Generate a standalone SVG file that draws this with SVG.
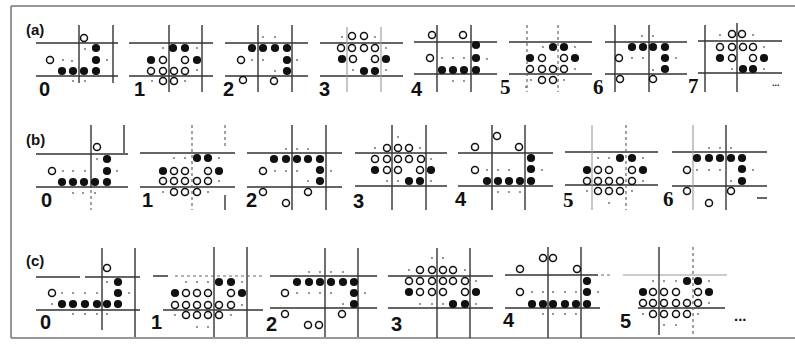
<svg xmlns="http://www.w3.org/2000/svg" width="795" height="349" viewBox="0 0 795 349">
<style>
.bg{fill:#fff}
.fr{stroke:#777;stroke-width:1.5;fill:none}
.ln{stroke:#333;stroke-width:1.4;fill:none}
.lt{stroke:#999;stroke-width:1.1;fill:none}
.dl{stroke:#666;stroke-width:1.2;fill:none;stroke-dasharray:3 3}
.f{fill:#111}
.o{fill:#fff;stroke:#111;stroke-width:1.5}
.d{fill:#666}
.lb{font-family:"Liberation Sans",Arial,sans-serif;font-size:20px;font-weight:bold;fill:#111}
.ls{font-family:"Liberation Serif","Times New Roman",serif;font-size:21px;font-weight:bold;fill:#111}
.tt{font-family:"Liberation Sans",Arial,sans-serif;font-size:15px;font-weight:bold;fill:#111}
</style>
<defs>
<circle id="F" r="4.1" class="f"/>
<circle id="O" r="3.5" class="o"/>
<circle id="D" r="0.9" class="d"/>
</defs>
<rect class="bg" x="0" y="0" width="795" height="349"/>
<g id="frame">
<path class="fr" d="M11,6H795M11,6V338M11,338H795"/>
</g>
<text class="tt" x="26" y="35">(a)</text>
<text class="tt" x="26" y="145">(b)</text>
<text class="tt" x="26" y="266">(c)</text>

<!-- Row a -->
<g id="a0">
<path class="ln" d="M36,43H118M36,76H118M79,25V83M113,25V83"/>
<use href="#O" x="84" y="38"/><use href="#O" x="50" y="60"/>
<use href="#F" x="96" y="48"/><use href="#F" x="96" y="60"/><use href="#F" x="96" y="71"/><use href="#F" x="62" y="71"/><use href="#F" x="73" y="71"/><use href="#F" x="84" y="71"/>
<use href="#D" x="63" y="60"/><use href="#D" x="72" y="61"/><use href="#D" x="85" y="49"/><use href="#D" x="107" y="60"/><use href="#D" x="73" y="81"/><use href="#D" x="85" y="81"/>
<text class="lb" x="39" y="96">0</text>
</g>
<g id="a1">
<path class="ln" d="M129,43H213M129,76H213M169,25V92M202,25V92"/>
<use href="#F" x="173" y="48"/><use href="#F" x="185" y="48"/><use href="#F" x="151" y="60"/><use href="#F" x="197" y="60"/>
<use href="#O" x="163" y="60"/><use href="#O" x="185" y="60"/><use href="#O" x="151" y="71"/><use href="#O" x="163" y="71"/><use href="#O" x="174" y="71"/><use href="#O" x="185" y="71"/><use href="#O" x="163" y="81"/><use href="#O" x="174" y="81"/>
<use href="#D" x="163" y="48"/><use href="#D" x="197" y="48"/><use href="#D" x="197" y="70"/><use href="#D" x="152" y="81"/><use href="#D" x="185" y="81"/>
<text class="lb" x="134" y="96">1</text>
</g>
<g id="a2">
<path class="ln" d="M225,43H308M225,76H308M258,25V92M292,25V92"/>
<use href="#F" x="252" y="48"/><use href="#F" x="263" y="48"/><use href="#F" x="275" y="48"/><use href="#F" x="287" y="48"/><use href="#F" x="287" y="60"/><use href="#F" x="287" y="71"/>
<use href="#O" x="241" y="60"/><use href="#O" x="243" y="80"/><use href="#O" x="274" y="81"/>
<use href="#D" x="263" y="37"/><use href="#D" x="275" y="37"/><use href="#D" x="252" y="60"/><use href="#D" x="263" y="60"/><use href="#D" x="275" y="71"/><use href="#D" x="297" y="60"/>
<text class="lb" x="223" y="96">2</text>
</g>
<g id="a3">
<path class="ln" d="M320,43H403M320,76H403"/>
<path class="lt" d="M347,27V92M381,27V92"/>
<use href="#O" x="352" y="36"/><use href="#O" x="364" y="36"/><use href="#O" x="341" y="48"/><use href="#O" x="352" y="48"/><use href="#O" x="364" y="48"/><use href="#O" x="375" y="48"/><use href="#O" x="353" y="59"/><use href="#O" x="375" y="59"/>
<use href="#F" x="342" y="59"/><use href="#F" x="386" y="59"/><use href="#F" x="364" y="71"/><use href="#F" x="375" y="71"/>
<use href="#D" x="342" y="37"/><use href="#D" x="375" y="37"/><use href="#D" x="386" y="48"/><use href="#D" x="353" y="70"/><use href="#D" x="386" y="70"/>
<text class="lb" x="319" y="96">3</text>
</g>
<g id="a4">
<path class="ln" d="M414,42H497M414,74H497M437,25V92M471,25V92"/>
<use href="#O" x="432" y="35"/><use href="#O" x="463" y="35"/><use href="#O" x="430" y="58"/>
<use href="#F" x="476" y="45"/><use href="#F" x="476" y="58"/><use href="#F" x="476" y="70"/><use href="#F" x="442" y="70"/><use href="#F" x="453" y="70"/><use href="#F" x="464" y="70"/>
<use href="#D" x="442" y="58"/><use href="#D" x="453" y="58"/><use href="#D" x="464" y="58"/><use href="#D" x="487" y="59"/><use href="#D" x="453" y="81"/><use href="#D" x="464" y="81"/>
<text class="lb" x="411" y="96">4</text>
</g>
<g id="a5">
<path class="ln" d="M509,42H592M509,74H592"/>
<path class="dl" d="M527,25V92M558,25V92"/>
<use href="#F" x="553" y="47"/><use href="#F" x="564" y="47"/><use href="#F" x="530" y="58"/><use href="#F" x="575" y="58"/>
<use href="#O" x="542" y="58"/><use href="#O" x="564" y="58"/><use href="#O" x="530" y="69"/><use href="#O" x="542" y="69"/><use href="#O" x="553" y="69"/><use href="#O" x="564" y="69"/><use href="#O" x="542" y="80"/><use href="#O" x="553" y="80"/>
<use href="#D" x="543" y="47"/><use href="#D" x="575" y="47"/><use href="#D" x="575" y="69"/><use href="#D" x="531" y="80"/><use href="#D" x="564" y="80"/><use href="#D" x="526" y="87"/>
<text class="ls" x="500" y="94">5</text>
</g>
<g id="a6">
<path class="ln" d="M605,42H687M605,74H687M615,25V92M649,25V92"/>
<use href="#F" x="632" y="47"/><use href="#F" x="643" y="47"/><use href="#F" x="653" y="47"/><use href="#F" x="665" y="47"/><use href="#F" x="665" y="58"/><use href="#F" x="665" y="69"/>
<use href="#O" x="619" y="58"/><use href="#O" x="620" y="79"/><use href="#O" x="653" y="79"/>
<use href="#D" x="642" y="36"/><use href="#D" x="653" y="36"/><use href="#D" x="632" y="58"/><use href="#D" x="643" y="58"/><use href="#D" x="653" y="70"/><use href="#D" x="676" y="58"/>
<text class="ls" x="593" y="94">6</text>
</g>
<g id="a7">
<path class="ln" d="M698,41H782M698,73H782M705,25V92M737,23V92"/>
<use href="#O" x="732" y="34"/><use href="#O" x="742" y="34"/><use href="#O" x="720" y="47"/><use href="#O" x="732" y="47"/><use href="#O" x="743" y="47"/><use href="#O" x="753" y="47"/><use href="#O" x="732" y="58"/><use href="#O" x="753" y="58"/>
<use href="#F" x="720" y="58"/><use href="#F" x="764" y="58"/><use href="#F" x="743" y="69"/><use href="#F" x="753" y="69"/>
<use href="#D" x="720" y="35"/><use href="#D" x="753" y="35"/><use href="#D" x="764" y="47"/><use href="#D" x="732" y="69"/><use href="#D" x="764" y="69"/>
<text class="ls" x="688" y="93">7</text>
<text class="tt" x="772" y="86" style="font-size:9px">...</text>
</g>

<!-- Row b -->
<g id="b0">
<path class="ln" d="M36,154H128M36,187H128M91,125V188M124,125V153"/>
<path class="dl" d="M91,190V210"/>
<use href="#O" x="97" y="147"/><use href="#O" x="52" y="171"/>
<use href="#F" x="107" y="159"/><use href="#F" x="107" y="171"/><use href="#F" x="107" y="182"/><use href="#F" x="62" y="182"/><use href="#F" x="73" y="182"/><use href="#F" x="84" y="182"/><use href="#F" x="95" y="182"/>
<use href="#D" x="63" y="171"/><use href="#D" x="73" y="171"/><use href="#D" x="85" y="171"/><use href="#D" x="97" y="159"/><use href="#D" x="117" y="171"/><use href="#D" x="73" y="193"/><use href="#D" x="83" y="193"/><use href="#D" x="95" y="193"/>
<text class="lb" x="41" y="207">0</text>
</g>
<g id="b1">
<path class="ln" d="M140,153H235M140,187H235M225,195V210"/>
<path class="dl" d="M192,125V210M225,125V148"/>
<use href="#F" x="197" y="158"/><use href="#F" x="208" y="158"/><use href="#F" x="163" y="171"/><use href="#F" x="219" y="171"/>
<use href="#O" x="174" y="171"/><use href="#O" x="185" y="171"/><use href="#O" x="208" y="171"/><use href="#O" x="163" y="181"/><use href="#O" x="174" y="181"/><use href="#O" x="185" y="181"/><use href="#O" x="197" y="181"/><use href="#O" x="208" y="181"/><use href="#O" x="174" y="192"/><use href="#O" x="185" y="192"/><use href="#O" x="197" y="192"/>
<use href="#D" x="174" y="158"/><use href="#D" x="185" y="158"/><use href="#D" x="219" y="158"/><use href="#D" x="219" y="181"/><use href="#D" x="163" y="192"/><use href="#D" x="208" y="192"/>
<text class="lb" x="142" y="207">1</text>
</g>
<g id="b2">
<path class="ln" d="M247,153H342M247,187H342M292,125V210M326,125V210"/>
<use href="#F" x="274" y="159"/><use href="#F" x="286" y="159"/><use href="#F" x="297" y="159"/><use href="#F" x="308" y="159"/><use href="#F" x="320" y="159"/><use href="#F" x="320" y="170"/><use href="#F" x="320" y="181"/>
<use href="#O" x="263" y="171"/><use href="#O" x="263" y="192"/><use href="#O" x="286" y="203"/><use href="#O" x="308" y="192"/>
<use href="#D" x="286" y="149"/><use href="#D" x="297" y="149"/><use href="#D" x="308" y="149"/><use href="#D" x="275" y="171"/><use href="#D" x="286" y="171"/><use href="#D" x="297" y="171"/><use href="#D" x="308" y="181"/><use href="#D" x="331" y="171"/>
<text class="lb" x="246" y="207">2</text>
</g>
<g id="b3">
<path class="ln" d="M355,153H447M355,186H447M392,125V210M426,125V210"/>
<use href="#O" x="387" y="148"/><use href="#O" x="398" y="148"/><use href="#O" x="409" y="148"/><use href="#O" x="375" y="159"/><use href="#O" x="387" y="159"/><use href="#O" x="398" y="159"/><use href="#O" x="409" y="159"/><use href="#O" x="421" y="159"/><use href="#O" x="387" y="170"/><use href="#O" x="398" y="170"/><use href="#O" x="420" y="170"/>
<use href="#F" x="375" y="170"/><use href="#F" x="431" y="170"/><use href="#F" x="409" y="181"/><use href="#F" x="420" y="181"/>
<use href="#D" x="398" y="137"/><use href="#D" x="375" y="148"/><use href="#D" x="420" y="148"/><use href="#D" x="431" y="159"/><use href="#D" x="387" y="181"/><use href="#D" x="398" y="181"/><use href="#D" x="431" y="181"/>
<text class="lb" x="353" y="208">3</text>
</g>
<g id="b4">
<path class="ln" d="M458,153H553M458,186H553M492,125V210M525,125V210"/>
<use href="#O" x="497" y="136"/><use href="#O" x="475" y="147"/><use href="#O" x="519" y="147"/><use href="#O" x="475" y="170"/>
<use href="#F" x="531" y="158"/><use href="#F" x="531" y="169"/><use href="#F" x="531" y="181"/><use href="#F" x="487" y="181"/><use href="#F" x="498" y="181"/><use href="#F" x="509" y="181"/><use href="#F" x="520" y="181"/>
<use href="#D" x="487" y="170"/><use href="#D" x="498" y="170"/><use href="#D" x="509" y="170"/><use href="#D" x="498" y="192"/><use href="#D" x="509" y="192"/><use href="#D" x="520" y="192"/><use href="#D" x="542" y="170"/>
<text class="lb" x="455" y="206">4</text>
</g>
<g id="b5">
<path class="ln" d="M565,152H658M565,185H658"/>
<path class="lt" d="M592,125V210"/>
<path class="dl" d="M626,125V210"/>
<use href="#F" x="620" y="158"/><use href="#F" x="632" y="158"/><use href="#F" x="587" y="170"/><use href="#F" x="643" y="170"/>
<use href="#O" x="598" y="170"/><use href="#O" x="609" y="170"/><use href="#O" x="632" y="170"/><use href="#O" x="587" y="181"/><use href="#O" x="598" y="181"/><use href="#O" x="609" y="181"/><use href="#O" x="620" y="181"/><use href="#O" x="632" y="181"/><use href="#O" x="598" y="191"/><use href="#O" x="609" y="191"/><use href="#O" x="620" y="191"/>
<use href="#D" x="598" y="158"/><use href="#D" x="609" y="158"/><use href="#D" x="643" y="158"/><use href="#D" x="643" y="181"/><use href="#D" x="587" y="191"/><use href="#D" x="632" y="191"/><use href="#D" x="609" y="203"/>
<text class="ls" x="563" y="207">5</text>
</g>
<g id="b6">
<path class="ln" d="M672,152H767M672,186H767M726,125V210M757,198H767"/>
<path class="lt" d="M693,125V210"/>
<use href="#F" x="697" y="158"/><use href="#F" x="709" y="158"/><use href="#F" x="720" y="158"/><use href="#F" x="731" y="158"/><use href="#F" x="742" y="158"/><use href="#F" x="742" y="169"/><use href="#F" x="742" y="181"/>
<use href="#O" x="687" y="170"/><use href="#O" x="687" y="191"/><use href="#O" x="709" y="203"/><use href="#O" x="731" y="191"/>
<use href="#D" x="709" y="148"/><use href="#D" x="720" y="148"/><use href="#D" x="731" y="148"/><use href="#D" x="697" y="170"/><use href="#D" x="709" y="170"/><use href="#D" x="720" y="170"/><use href="#D" x="731" y="181"/><use href="#D" x="753" y="170"/>
<text class="ls" x="663" y="206">6</text>
</g>

<!-- Row c -->
<g id="c0">
<path class="ln" d="M36,277H80M85,277H140M36,310H140M102,248V330M135,248V337"/>
<use href="#O" x="107" y="268"/><use href="#O" x="52" y="293"/>
<use href="#F" x="118" y="282"/><use href="#F" x="118" y="293"/><use href="#F" x="118" y="304"/><use href="#F" x="62" y="304"/><use href="#F" x="73" y="304"/><use href="#F" x="85" y="304"/><use href="#F" x="97" y="304"/><use href="#F" x="107" y="304"/>
<use href="#D" x="62" y="293"/><use href="#D" x="73" y="293"/><use href="#D" x="85" y="293"/><use href="#D" x="97" y="293"/><use href="#D" x="107" y="282"/><use href="#D" x="129" y="293"/><use href="#D" x="73" y="314"/><use href="#D" x="85" y="314"/><use href="#D" x="97" y="314"/><use href="#D" x="107" y="314"/><use href="#D" x="52" y="304"/>
<text class="lb" x="40" y="329">0</text>
</g>
<g id="c1">
<path class="ln" d="M153,276H168M163,310H263M214,247V337M247,247V337"/>
<path class="dl" d="M175,276H263"/>
<use href="#F" x="219" y="282"/><use href="#F" x="231" y="282"/><use href="#F" x="175" y="293"/><use href="#F" x="242" y="293"/>
<use href="#O" x="186" y="293"/><use href="#O" x="197" y="293"/><use href="#O" x="208" y="293"/><use href="#O" x="231" y="293"/><use href="#O" x="175" y="305"/><use href="#O" x="186" y="305"/><use href="#O" x="197" y="305"/><use href="#O" x="208" y="305"/><use href="#O" x="219" y="305"/><use href="#O" x="231" y="305"/><use href="#O" x="186" y="315"/><use href="#O" x="197" y="315"/><use href="#O" x="208" y="315"/><use href="#O" x="219" y="315"/>
<use href="#D" x="186" y="282"/><use href="#D" x="197" y="282"/><use href="#D" x="208" y="282"/><use href="#D" x="242" y="282"/><use href="#D" x="242" y="305"/><use href="#D" x="175" y="315"/><use href="#D" x="231" y="315"/><use href="#D" x="197" y="327"/><use href="#D" x="208" y="327"/>
<text class="lb" x="151" y="329">1</text>
</g>
<g id="c2">
<path class="ln" d="M270,276H377M270,308H377M325,248V337M358,248V337"/>
<use href="#F" x="297" y="282"/><use href="#F" x="309" y="282"/><use href="#F" x="320" y="282"/><use href="#F" x="331" y="282"/><use href="#F" x="343" y="282"/><use href="#F" x="354" y="282"/><use href="#F" x="354" y="293"/><use href="#F" x="354" y="304"/>
<use href="#O" x="285" y="293"/><use href="#O" x="285" y="314"/><use href="#O" x="308" y="325"/><use href="#O" x="319" y="325"/><use href="#O" x="342" y="314"/>
<use href="#D" x="309" y="272"/><use href="#D" x="320" y="272"/><use href="#D" x="331" y="272"/><use href="#D" x="343" y="272"/><use href="#D" x="297" y="293"/><use href="#D" x="309" y="293"/><use href="#D" x="320" y="293"/><use href="#D" x="331" y="293"/><use href="#D" x="343" y="304"/><use href="#D" x="365" y="293"/>
<text class="lb" x="266" y="331">2</text>
</g>
<g id="c3">
<path class="ln" d="M388,276H493M388,308H493M437,248V338M470,248V338"/>
<use href="#O" x="420" y="270"/><use href="#O" x="432" y="270"/><use href="#O" x="443" y="270"/><use href="#O" x="453" y="270"/><use href="#O" x="409" y="281"/><use href="#O" x="420" y="281"/><use href="#O" x="432" y="281"/><use href="#O" x="443" y="281"/><use href="#O" x="453" y="281"/><use href="#O" x="465" y="281"/><use href="#O" x="420" y="292"/><use href="#O" x="432" y="292"/><use href="#O" x="443" y="292"/><use href="#O" x="465" y="292"/>
<use href="#F" x="409" y="292"/><use href="#F" x="476" y="292"/><use href="#F" x="453" y="304"/><use href="#F" x="465" y="304"/>
<use href="#D" x="432" y="258"/><use href="#D" x="443" y="258"/><use href="#D" x="409" y="270"/><use href="#D" x="465" y="270"/><use href="#D" x="476" y="281"/><use href="#D" x="420" y="304"/><use href="#D" x="432" y="304"/><use href="#D" x="443" y="304"/><use href="#D" x="476" y="304"/>
<text class="lb" x="391" y="331">3</text>
</g>
<g id="c4">
<path class="ln" d="M505,275H598M505,308H600M548,247V338M581,247V338"/>
<path class="dl" d="M601,275H610"/>
<use href="#O" x="543" y="258"/><use href="#O" x="553" y="258"/><use href="#O" x="520" y="269"/><use href="#O" x="577" y="269"/><use href="#O" x="520" y="292"/>
<use href="#F" x="587" y="281"/><use href="#F" x="587" y="292"/><use href="#F" x="587" y="304"/><use href="#F" x="532" y="304"/><use href="#F" x="543" y="304"/><use href="#F" x="553" y="304"/><use href="#F" x="565" y="304"/><use href="#F" x="576" y="304"/>
<use href="#D" x="532" y="292"/><use href="#D" x="543" y="292"/><use href="#D" x="553" y="292"/><use href="#D" x="565" y="292"/><use href="#D" x="576" y="292"/><use href="#D" x="598" y="292"/><use href="#D" x="543" y="314"/><use href="#D" x="553" y="314"/><use href="#D" x="565" y="314"/><use href="#D" x="576" y="314"/>
<text class="lb" x="503" y="327">4</text>
</g>
<g id="c5">
<path class="lt" d="M623,275H727"/>
<path class="ln" d="M638,308H725M659,247V335"/>
<path class="dl" d="M693,247V335"/>
<use href="#F" x="687" y="281"/><use href="#F" x="698" y="281"/><use href="#F" x="643" y="292"/><use href="#F" x="709" y="292"/>
<use href="#O" x="653" y="292"/><use href="#O" x="664" y="292"/><use href="#O" x="676" y="292"/><use href="#O" x="698" y="292"/><use href="#O" x="643" y="303"/><use href="#O" x="653" y="303"/><use href="#O" x="664" y="303"/><use href="#O" x="676" y="303"/><use href="#O" x="687" y="303"/><use href="#O" x="698" y="303"/><use href="#O" x="653" y="314"/><use href="#O" x="664" y="314"/><use href="#O" x="676" y="314"/><use href="#O" x="687" y="314"/>
<use href="#D" x="653" y="281"/><use href="#D" x="664" y="281"/><use href="#D" x="676" y="281"/><use href="#D" x="709" y="281"/><use href="#D" x="709" y="303"/><use href="#D" x="643" y="314"/><use href="#D" x="698" y="314"/><use href="#D" x="664" y="325"/><use href="#D" x="676" y="325"/>
<text class="lb" x="620" y="328">5</text>
<text class="tt" x="734" y="321">...</text>
</g>
</svg>
